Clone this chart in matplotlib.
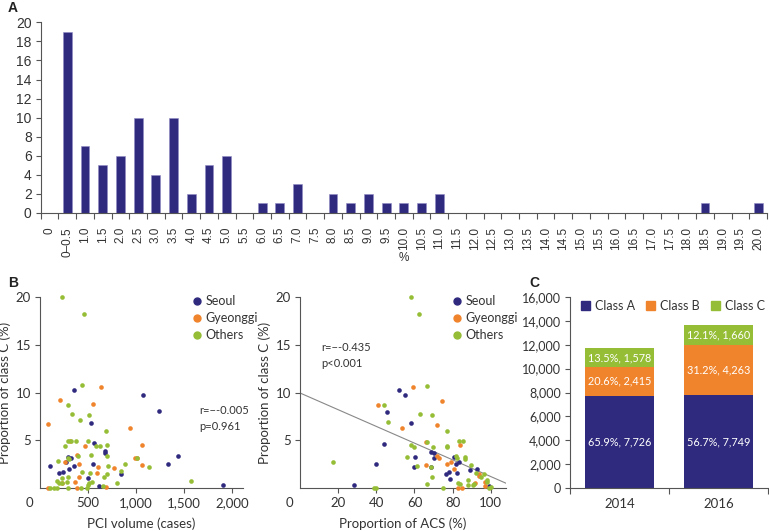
import numpy as np
import matplotlib
matplotlib.use('Agg')
import matplotlib.pyplot as plt
from matplotlib.lines import Line2D
from matplotlib.patches import Patch

# panel A: distribution of hospitals by proportion of class C (%)
hist_labels = ['0', '0\u20130.5', '1.0', '1.5', '2.0', '2.5', '3.0', '3.5', '4.0', '4.5',
               '5.0', '5.5', '6.0', '6.5', '7.0', '7.5', '8.0', '8.5', '9.0', '9.5',
               '10.0', '10.5', '11.0', '11.5', '12.0', '12.5', '13.0', '13.5', '14.0', '14.5',
               '15.0', '15.5', '16.0', '16.5', '17.0', '17.5', '18.0', '18.5', '19.0', '19.5',
               '20.0']
hist_counts = [0, 19, 7, 5, 6, 10, 4, 10, 2, 5,
               6, 0, 1, 1, 3, 0, 2, 1, 2, 1,
               1, 1, 2, 0, 0, 0, 0, 0, 0, 0,
               0, 0, 0, 0, 0, 0, 0, 1, 0, 0,
               1]

# panel B left: PCI volume vs proportion of class C
seoul_pci = [354, 1069, 1235, 531, 562, 677, 677, 104, 201, 243, 288, 323, 267, 354, 302,
             555, 500, 611, 840, 1336, 1437, 1909]
seoul_pci_c = [10.3, 9.75, 8.05, 6.8, 4.7, 3.9, 3.66, 2.26, 1.6, 1.7, 3.2, 3.1, 2.7, 2.26, 2.0,
               2.5, 1.05, 0.17, 1.46, 2.5, 3.3, 0.35]
gyeonggi_pci = [87, 208, 632, 555, 937, 1058, 989, 1006, 1065, 389, 316, 468, 406, 406, 361,
                590, 601, 770, 226, 80, 389, 688, 260]
gyeonggi_pci_c = [6.7, 9.2, 10.6, 8.8, 6.3, 4.55, 3.1, 3.1, 2.4, 3.5, 4.9, 4.35, 2.5, 1.2, 0.6,
                  1.57, 2.16, 2.1, 0.52, 0.0, 0.0, 0.1, 2.7]
others_pci = [225, 462, 434, 295, 330, 417, 514, 688, 295, 319, 375, 496, 260, 583, 625, 694,
              295, 305, 399, 531, 694, 184, 711, 885, 1006, 1138, 520, 226, 292, 434, 666, 694,
              840, 174, 201, 226, 278, 503, 514, 538, 798, 104, 149, 174, 288, 424, 486, 1569, 660]
others_pci_c = [20.0, 18.2, 10.8, 8.7, 7.8, 7.07, 7.67, 6.0, 4.95, 4.95, 4.95, 4.9, 4.35, 4.4, 4.45, 4.5,
                3.1, 3.0, 3.3, 3.45, 3.3, 2.8, 2.26, 2.5, 3.1, 2.2, 1.57, 1.0, 1.1, 1.7, 1.2, 1.5,
                1.74, 0.7, 0.56, 0.52, 0.6, 0.35, 0.5, 0.6, 0.55, 0.0, 0.0, 0.0, 0.0, 0.0, 0.0, 0.7, 0.17]

# panel B right: proportion of ACS vs proportion of class C
seoul_acs = [52.1, 55.2, 45.8, 58.0, 44.1, 39.9, 28.3, 60.3, 59.8, 68.5, 70.3, 70.5, 68.5, 76.6,
             78.3, 78.7, 80.8, 82.0, 83.2, 82.5, 89.2, 92.7, 99.3]
seoul_acs_c = [10.3, 9.7, 8.0, 6.76, 4.63, 2.5, 0.3, 3.2, 2.23, 3.8, 3.66, 3.1, 2.16, 1.43,
               1.64, 0.98, 3.2, 2.55, 2.7, 1.53, 1.85, 1.99, 0.24]
gyeonggi_acs = [59.4, 74.3, 41.1, 53.5, 72.0, 65.9, 84.1, 65.9, 71.9, 73.1, 77.3, 79.2, 80.8,
                83.0, 85.0, 93.7, 94.1, 97.2, 97.0, 91.6]
gyeonggi_acs_c = [10.6, 9.16, 8.7, 6.27, 6.6, 4.84, 4.5, 2.44, 3.4, 3.14, 2.47, 2.68, 2.0,
                  0.0, 0.0, 1.5, 1.22, 0.6, 0.17, 0.56]
others_acs = [58.0, 62.2, 66.8, 44.2, 46.3, 62.9, 69.2, 76.9, 58.2, 59.8, 66.4, 69.9, 77.3, 77.3,
              83.2, 85.5, 55.9, 61.2, 68.7, 17.5, 81.6, 82.2, 86.5, 86.5, 89.4, 92.3, 96.5, 94.9,
              66.8, 69.0, 74.8, 83.0, 84.0, 88.3, 88.3, 90.6, 91.3, 97.9, 98.3, 99.0, 100.0, 39.0, 39.7]
others_acs_c = [20.0, 18.2, 10.7, 8.64, 6.93, 7.8, 7.6, 6.0, 4.46, 4.25, 4.8, 4.3, 4.4, 4.25,
                4.9, 4.9, 3.24, 2.26, 2.16, 2.75, 3.38, 3.14, 3.2, 3.0, 2.4, 1.57, 1.5, 1.15,
                0.45, 1.15, 0.0, 0.52, 0.45, 0.87, 0.3, 0.35, 0.45, 0.87, 0.6, 0.0, 0.1, 0.0, 0.0]
fit_intercept = 9.95
fit_slope = -0.0875

# panel C: number of PCI cases per class
years = ['2014', '2016']
class_a = [7726, 7749]
class_b = [2415, 4263]
class_c = [1578, 1660]
pct_a = [65.9, 56.7]
pct_b = [20.6, 31.2]
pct_c = [13.5, 12.1]

navy = '#2f2a7e'
orange = '#f0842c'
green = '#95bd35'
txt = '#333333'
spine = '#555555'
arial = ['Liberation Sans', 'DejaVu Sans']

plt.rcParams['font.family'] = ['Lato', 'DejaVu Sans']
plt.rcParams['text.color'] = txt
plt.rcParams['axes.labelcolor'] = txt
plt.rcParams['xtick.color'] = spine
plt.rcParams['ytick.color'] = spine
plt.rcParams['xtick.labelcolor'] = txt
plt.rcParams['ytick.labelcolor'] = txt
plt.rcParams['axes.edgecolor'] = spine
plt.rcParams['axes.linewidth'] = 0.8

fig = plt.figure(figsize=(7.69, 5.31), dpi=100)
W, H = 769, 531

def add_axes(l, t, r, b):
    return fig.add_axes([l / W, (H - b) / H, (r - l) / W, (b - t) / H])

# ---------- A ----------
axA = add_axes(40.7, 22.3, 767, 213)
pos = np.arange(len(hist_counts))
axA.bar(pos, hist_counts, width=0.5, color=navy, edgecolor='#8f8bc4', linewidth=0.4)
axA.set_xlim(-0.5, len(hist_counts) - 0.5)
axA.set_ylim(0, 20)
axA.set_yticks(range(0, 21, 2))
axA.set_xticks(np.arange(-0.5, len(hist_counts), 1))
axA.set_xticklabels([])
axA.set_xticks(pos, minor=True)
axA.set_xticklabels(hist_labels, minor=True, rotation=90, va='top',
                    fontfamily=arial, fontsize=8.5)
axA.tick_params(axis='x', which='minor', length=0, pad=10)
axA.tick_params(axis='x', which='major', length=4, direction='out')
axA.tick_params(axis='y', length=3.5, pad=3)
for lab in axA.get_yticklabels():
    lab.set_fontfamily(arial)
    lab.set_fontsize(10)
axA.spines['top'].set_visible(False)
axA.spines['right'].set_visible(False)
axA.text(404 / W, 1 - 258 / H, '%', transform=fig.transFigure, ha='center', va='center',
         fontsize=8.5, fontfamily=arial)

# ---------- B ----------
def scatter_panel(ax, sets, xmax, xticks, xticklabels, xlabel, legend_x):
    for xs, ys, col, name in sets:
        ax.scatter(xs, ys, s=11, color=col, linewidths=0, clip_on=False, zorder=3, label=name)
    ax.set_xlim(0, xmax)
    ax.set_ylim(0, 20)
    ax.set_yticks([5, 10, 15, 20])
    ax.set_xticks(xticks)
    ax.set_xticklabels(xticklabels)
    ax.tick_params(length=3.5, labelsize=9.5, pad=3)
    ax.spines['top'].set_visible(False)
    ax.spines['right'].set_visible(False)
    ax.set_xlabel(xlabel, fontsize=9.5, labelpad=6)
    ax.set_ylabel('Proportion of class C (%)', fontsize=9.5, labelpad=3)
    ax.annotate('0', xy=(0, 0), xycoords='axes fraction', xytext=(-7.5, -6.5),
                textcoords='offset points', ha='center', va='top', fontsize=9.5)
    handles = [Line2D([], [], marker='o', linestyle='none', markersize=5, color=c, label=n)
               for _, _, c, n in sets]
    ax.legend(handles=handles, loc='upper left', bbox_to_anchor=(legend_x, 1.05), frameon=False,
              fontsize=9, handletextpad=0.05, labelspacing=0.4, borderaxespad=0.2,
              handlelength=1.2)

axB1 = add_axes(40, 297, 243, 488)
scatter_panel(axB1,
              [(seoul_pci, seoul_pci_c, navy, 'Seoul'),
               (gyeonggi_pci, gyeonggi_pci_c, orange, 'Gyeonggi'),
               (others_pci, others_pci_c, green, 'Others')],
              2115, [500, 1000, 1500, 2000], ['500', '1,000', '1,500', '2,000'],
              'PCI volume (cases)', 0.7)
axB1.text(0.785, 0.405, 'r=\u2212-0.005', transform=axB1.transAxes, fontsize=8, va='center')
axB1.text(0.785, 0.32, 'p=0.961', transform=axB1.transAxes, fontsize=8, va='center')

axB2 = add_axes(300, 297, 506, 488)
scatter_panel(axB2,
              [(seoul_acs, seoul_acs_c, navy, 'Seoul'),
               (gyeonggi_acs, gyeonggi_acs_c, orange, 'Gyeonggi'),
               (others_acs, others_acs_c, green, 'Others')],
              108, [20, 40, 60, 80, 100], ['20', '40', '60', '80', '100'],
              'Proportion of ACS (%)', 0.69)
fx = np.array([0, 108])
axB2.plot(fx, fit_intercept + fit_slope * fx, color='#888888', linewidth=0.8, zorder=2)
axB2.text(0.105, 0.735, 'r=\u2212-0.435', transform=axB2.transAxes, fontsize=8, va='center')
axB2.text(0.105, 0.65, 'p<0.001', transform=axB2.transAxes, fontsize=8, va='center')

# ---------- C ----------
axC = add_axes(570, 297, 768, 488)
xc = np.arange(len(years))
axC.bar(xc, class_a, width=0.7, color=navy)
axC.bar(xc, class_b, width=0.7, bottom=class_a, color=orange)
bottom_c = np.array(class_a) + np.array(class_b)
axC.bar(xc, class_c, width=0.7, bottom=bottom_c, color=green)
for i in range(len(years)):
    axC.text(xc[i], class_a[i] / 2, f'{pct_a[i]}%, {class_a[i]:,}', ha='center', va='center',
             color='white', fontsize=7.8)
    axC.text(xc[i], class_a[i] + class_b[i] / 2, f'{pct_b[i]}%, {class_b[i]:,}', ha='center',
             va='center', color='white', fontsize=7.8)
    axC.text(xc[i], bottom_c[i] + class_c[i] / 2, f'{pct_c[i]}%, {class_c[i]:,}', ha='center',
             va='center', color='white', fontsize=7.8)
axC.set_xlim(-0.5, 1.5)
axC.set_ylim(0, 16000)
axC.set_yticks(range(0, 16001, 2000))
axC.set_yticklabels([f'{v:,}' for v in range(0, 16001, 2000)])
axC.set_xticks([-0.5, 0.5, 1.5])
axC.set_xticklabels([])
axC.set_xticks(xc, minor=True)
axC.set_xticklabels(years, minor=True)
axC.tick_params(axis='x', which='minor', length=0, labelsize=9.5, pad=7)
axC.tick_params(axis='x', which='major', length=4)
axC.tick_params(axis='y', length=3.5, labelsize=9, pad=3)
axC.spines['top'].set_visible(False)
axC.spines['right'].set_visible(False)
axC.legend(handles=[Patch(color=navy, label='Class A'), Patch(color=orange, label='Class B'),
                    Patch(color=green, label='Class C')],
           loc='upper center', bbox_to_anchor=(0.52, 1.045), ncol=3, frameon=False,
           fontsize=9, handlelength=0.7, handleheight=0.7, handletextpad=0.4,
           columnspacing=0.9)

for label, x, y in [('A', 8, 8), ('B', 8, 283), ('C', 529, 283)]:
    fig.text(x / W, 1 - y / H, label, fontsize=10, fontweight='bold', color='#222222',
             ha='left', va='center', fontfamily=arial)

plt.savefig('out.png', dpi=100)
